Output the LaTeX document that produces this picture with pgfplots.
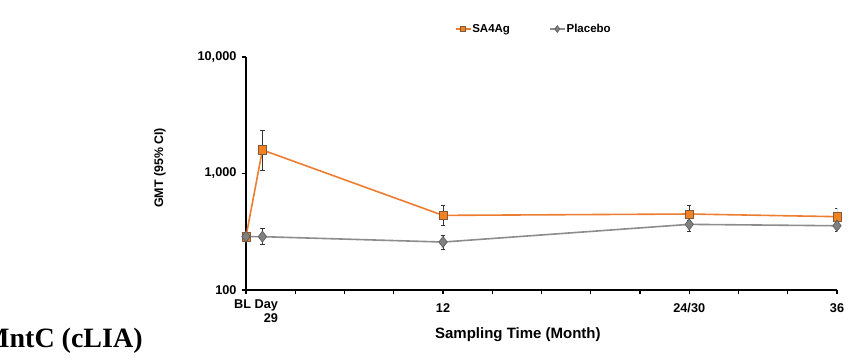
\documentclass[border=0pt]{standalone}
\usepackage{pgfplots}
\pgfplotsset{compat=1.18}
\usepackage{fontspec}
\setmainfont{Liberation Sans}
\newfontfamily\timesfont{Liberation Serif}
\definecolor{orangeL}{RGB}{237,125,49}
\definecolor{orangeF}{RGB}{245,130,32}
\definecolor{orangeD}{RGB}{125,90,60}
\definecolor{greyL}{RGB}{140,140,140}
\definecolor{greyF}{RGB}{128,128,128}
\definecolor{greyD}{RGB}{90,90,90}
\begin{document}
\begin{tikzpicture}[x=1pt,y=1pt]
\useasboundingbox (0,0) rectangle (857,359);
\clip (0,0) rectangle (857,359);
\begin{axis}[
  at={(246pt,69pt)}, anchor=south west,
  scale only axis, width=591pt, height=233pt,
  ymode=log, ymin=100, ymax=10000,
  xmin=0, xmax=36,
  axis lines=left, axis line style={-, line width=1.1pt, black},
  every tick/.style={black, line width=1.1pt},
  tick align=outside, major tick length=4pt,
  xtick={0,3,...,36},
  xticklabels={,,,,12,,,,,24/30,,,36},
  extra x ticks={0.61},
  extra x tick labels={BL Day\\29},
  extra x tick style={major tick length=0pt, xticklabel style={align=right}},
  ytick={100,1000,10000},
  yticklabels={100,{1,000},{10,000}},
  yminorticks=false, minor tick num=0,
  ticklabel style={font=\fontsize{12.7}{14}\selectfont\bfseries},
  xticklabel style={yshift=-6pt},
  yticklabel style={xshift=-2pt},
  xlabel={Sampling Time (Month)},
  ylabel={GMT (95\% CI)},
  label style={font=\fontsize{15}{17}\selectfont\bfseries},
  xlabel style={at={(rel axis cs:0.46,0)}, anchor=base, yshift=-49pt},
  ylabel style={at={(rel axis cs:-0.1455,0.524)}, anchor=center, font=\fontsize{12.4}{14}\selectfont\bfseries},
  legend columns=2,
  legend style={draw=none, fill=none, at={(rel axis cs:0.486,1.12)}, anchor=center,
    font=\fontsize{11.5}{13}\selectfont\bfseries,
    /tikz/every even column/.append style={column sep=38pt},
    nodes={inner sep=1pt}},
  legend image code/.code={\draw[mark repeat=2,mark phase=2] plot coordinates {(0pt,0pt) (7.5pt,0pt) (15pt,0pt)};},
  error bars/y dir=both, error bars/y explicit,
  error bars/error bar style={black!80, line width=0.6pt},
  error bars/error mark options={rotate=90, mark size=2.2pt, black!80, line width=0.6pt},
]
\addplot[orangeL, line width=1.6pt, mark=square*, mark size=4.2pt,
  mark options={fill=orangeF, draw=orangeD, line width=0.6pt},
  legend image post style={mark size=2.6pt}]
coordinates {
(0,287) += (0,15) -= (0,15)
(1,1592) += (0,740) -= (0,520)
(12,437) += (0,97) -= (0,80)
(27,449) += (0,85) -= (0,50)
(36,426) += (0,80) -= (0,50)
};
\addlegendentry{SA4Ag}
\addplot[greyL, line width=1.6pt, mark=diamond*, mark size=5.6pt,
  mark options={fill=greyF, draw=greyD, line width=0.6pt},
  legend image post style={mark size=3.4pt}]
coordinates {
(0,287) += (0,15) -= (0,15)
(1,287) += (0,52) -= (0,39)
(12,258) += (0,39) -= (0,33)
(27,366) += (0,30) -= (0,47)
(36,356) += (0,39) -= (0,36)
};
\addlegendentry{Placebo}
\end{axis}
\node[anchor=base west, inner sep=0pt, font=\timesfont\bfseries\fontsize{28}{30}\selectfont] at (-17,12) {MntC (cLIA)};
\end{tikzpicture}
\end{document}
